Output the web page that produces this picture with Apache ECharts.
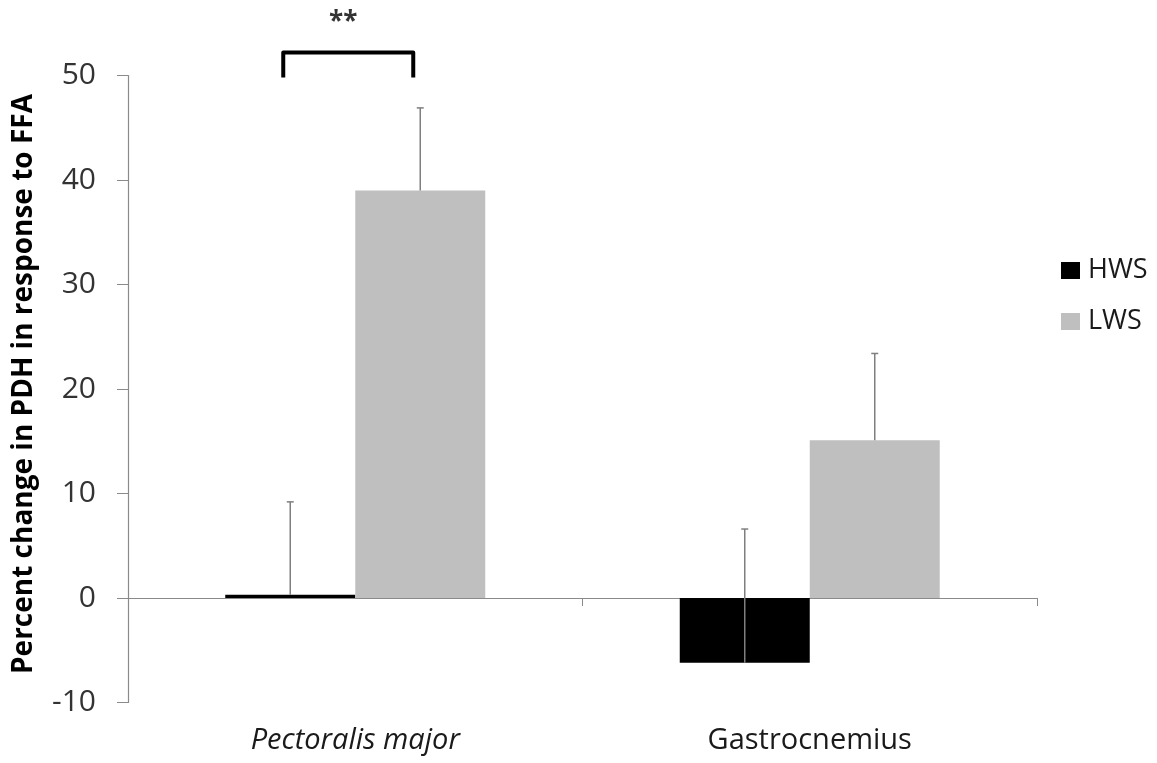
<!DOCTYPE html>
<html>
<head>
<meta charset="utf-8">
<script src="https://cdn.jsdelivr.net/npm/echarts@6/dist/echarts.min.js"></script>
<style>html,body{margin:0;padding:0;background:#fff}#c{width:1157px;height:763px}</style>
</head>
<body>
<div id="c"></div>
<script>
// ---- data ----
var categories = ['Pectoralis major', 'Gastrocnemius'];
var seriesNames = ['HWS', 'LWS'];
var hwsValues = [0.3, -6.2];
var lwsValues = [39.0, 15.1];
var hwsErrors = [8.9, 12.8];
var lwsErrors = [7.9, 8.3];
var yTicks = [-10, 0, 10, 20, 30, 40, 50];
// significance annotation
var sigCategory = [0];
var sigBracket = [49.8, 52.2];
var sigStarLevel = [55.1];
var sigText = ['**'];

// ---- styles ----
var BAR_W = 130;
var FONT = '"Open Sans", sans-serif';
var AXIS_GRAY = '#8a8a8a';

var chart = echarts.init(document.getElementById('c'));

function errorSeries(name, values, errors, sign) {
  var data = values.map(function (v, i) { return [i, v, v + errors[i]]; });
  return {
    type: 'custom',
    name: name + ' error',
    xAxisIndex: 0, yAxisIndex: 0,
    silent: true,
    z: 5,
    data: data,
    renderItem: function (params, api) {
      var lo = api.coord([api.value(0), api.value(1)]);
      var hi = api.coord([api.value(0), api.value(2)]);
      var x = lo[0] + sign * BAR_W / 2;
      return {
        type: 'group',
        children: [
          { type: 'line', shape: { x1: x, y1: lo[1], x2: x, y2: hi[1] }, style: { stroke: '#7f7f7f', lineWidth: 1.5 } },
          { type: 'line', shape: { x1: x - 3.5, y1: hi[1], x2: x + 3.5, y2: hi[1] }, style: { stroke: '#7f7f7f', lineWidth: 1.5 } }
        ]
      };
    }
  };
}

var option = {
  backgroundColor: '#ffffff',
  animation: false,
  grid: { left: 128, right: 120, top: 75.5, bottom: 60.5, containLabel: false },
  legend: {
    orient: 'vertical',
    left: 1056,
    top: 252,
    itemWidth: 19,
    itemHeight: 17,
    itemGap: 24,
    icon: 'rect',
    data: seriesNames,
    textStyle: { fontFamily: FONT, fontSize: 27, color: '#1a1a1a', padding: [0, 0, 0, 3] }
  },
  xAxis: [
    {
      type: 'category',
      data: categories,
      axisLine: { onZero: true, lineStyle: { color: AXIS_GRAY, width: 1.2 } },
      axisTick: { show: true, length: 8, lineStyle: { color: AXIS_GRAY } },
      axisLabel: { show: false },
      splitLine: { show: false }
    },
    {
      type: 'category',
      data: categories,
      position: 'bottom',
      axisLine: { show: false, onZero: false },
      axisTick: { show: false },
      splitLine: { show: false },
      axisLabel: {
        margin: 24,
        fontFamily: FONT,
        fontSize: 29,
        color: '#1a1a1a',
        formatter: function (v, i) { return i === 0 ? '{it|' + v + '}' : v; },
        rich: { it: { fontStyle: 'italic', fontFamily: FONT, fontSize: 29, color: '#1a1a1a' } }
      }
    }
  ],
  yAxis: {
    type: 'value',
    min: yTicks[0],
    max: yTicks[yTicks.length - 1],
    interval: 10,
    name: 'Percent change in PDH in response to FFA',
    nameLocation: 'middle',
    nameGap: 90,
    nameTextStyle: { fontFamily: FONT, fontSize: 28, fontWeight: 'bold', color: '#000', padding: [0, 0, 0, 10] },
    axisLine: { show: true, lineStyle: { color: AXIS_GRAY, width: 1.2 } },
    axisTick: { show: true, length: 11, lineStyle: { color: AXIS_GRAY } },
    axisLabel: { fontFamily: FONT, fontSize: 30, color: '#333', margin: 32 },
    splitLine: { show: false }
  },
  series: [
    { type: 'bar', name: seriesNames[0], data: hwsValues, barWidth: BAR_W, barGap: '0%', itemStyle: { color: '#000000' }, z: 3 },
    { type: 'bar', name: seriesNames[1], data: lwsValues, barWidth: BAR_W, barGap: '0%', itemStyle: { color: '#bfbfbf' }, z: 3 },
    errorSeries('HWS', hwsValues, hwsErrors, -1),
    errorSeries('LWS', lwsValues, lwsErrors, 1),
    {
      type: 'custom',
      name: 'significance',
      silent: true,
      clip: false,
      z: 6,
      data: sigCategory.map(function (c, i) { return [c, sigBracket[0], sigBracket[1], sigStarLevel[i]]; }),
      renderItem: function (params, api) {
        var base = api.coord([api.value(0), api.value(1)]);
        var top = api.coord([api.value(0), api.value(2)]);
        var star = api.coord([api.value(0), api.value(3)]);
        var xl = base[0] - BAR_W / 2 - 7;
        var xr = base[0] + BAR_W / 2 - 7;
        return {
          type: 'group',
          children: [
            { type: 'polyline', shape: { points: [[xl, base[1]], [xl, top[1]], [xr, top[1]], [xr, base[1]]] },
              style: { stroke: '#000', lineWidth: 4, fill: null, lineJoin: 'round', lineCap: 'butt' } },
            { type: 'text', style: { text: sigText[params.dataIndex], x: (xl + xr) / 2 - 5, y: star[1], align: 'center', verticalAlign: 'middle',
              font: 'bold 26px "Open Sans", sans-serif', fill: '#333' } }
          ]
        };
      }
    }
  ]
};
chart.setOption(option);
</script>
</body>
</html>
